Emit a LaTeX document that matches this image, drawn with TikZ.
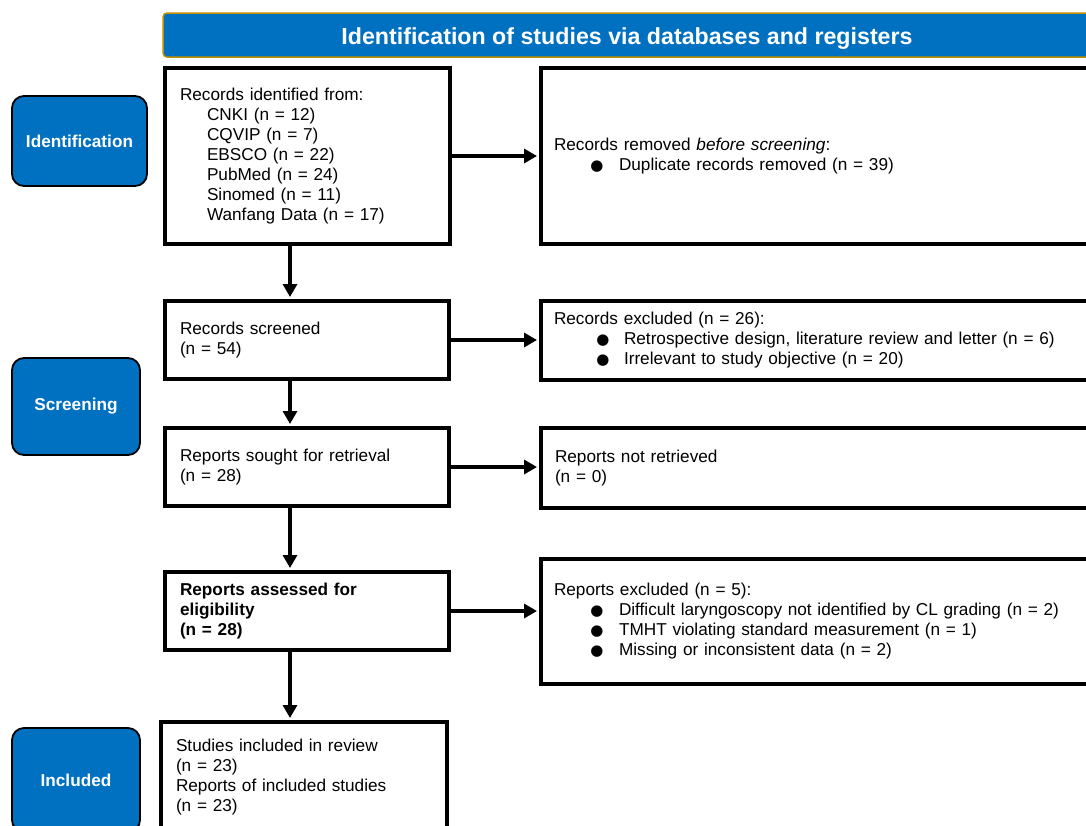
\documentclass[tikz,border=0pt]{standalone}
\usepackage{fontspec}
\setmainfont{Liberation Sans}
\newfontfamily\djv{DejaVu Sans}
\usetikzlibrary{arrows.meta}
\definecolor{pblue}{HTML}{0070C0}
\definecolor{pgold}{HTML}{C09000}
\newcommand\fs{\fontsize{17.2}{20}\selectfont}
\newcommand\bglyph{\djv\fontsize{15}{15}\selectfont ●}
\newcommand\bl{\hspace*{38pt}\makebox[10pt][c]{\bglyph}\hspace*{17pt}}
\newcommand\blw{\hspace*{44pt}\makebox[10pt][c]{\bglyph}\hspace*{16pt}}
\newcommand\ind{\hspace*{27pt}}
\begin{document}
\begin{tikzpicture}[x=1pt,y=-1pt,
  box/.style={draw, line width=4pt, fill=white, rectangle, anchor=north west,
    inner xsep=15pt, inner ysep=0pt, align=left, font=\fs},
  rbox/.style={box, inner xsep=13pt, text width=570pt},
  lbl/.style={draw=black, line width=1.8pt, fill=pblue, rounded corners=12pt,
    text=white, font=\fontsize{17.2}{20}\selectfont\bfseries, inner sep=0pt},
  hdr/.style={draw=pgold, line width=1.5pt, fill=pblue, rounded corners=4pt, inner sep=0pt},
  hdrtext/.style={text=white, font=\fontsize{23.2}{26}\selectfont\bfseries, inner sep=0pt},
  arr/.style={line width=3.5pt, -{Triangle[length=13pt,width=14pt]}, shorten >=2pt}]
\clip (0,0) rectangle (1086,825);
\fill[white] (0,0) rectangle (1086,825);
% header
\node[hdr, minimum width=928pt, minimum height=44pt] (hdr) at (627,35) {};
\node[hdrtext, anchor=base] (htxt) at (627,44)
  {Identification of studies via databases and registers};
% side labels
\node[lbl, minimum width=135pt, minimum height=90pt] (lid) at (79.5,141) {Identification};
\node[lbl, minimum width=128pt, minimum height=97pt] (lsc) at (76,406.5) {Screening};
\node[lbl, minimum width=128pt, minimum height=104pt] (lin) at (76,780) {Included};
% left column
\node[box, text width=255pt, minimum height=176pt] (b1) at (163,66)
  {Records identified from:\\
   \ind CNKI (n = 12)\\
   \ind CQVIP (n = 7)\\
   \ind EBSCO (n = 22)\\
   \ind PubMed (n = 24)\\
   \ind Sinomed (n = 11)\\
   \ind Wanfang Data (n = 17)};
\node[box, text width=254pt, minimum height=78pt] (b2) at (163,299)
  {Records screened\\(n = 54)};
\node[box, text width=254pt, minimum height=78pt] (b3) at (163,426)
  {Reports sought for retrieval\\(n = 28)};
\node[box, text width=254pt, minimum height=78pt, font=\fs\bfseries] (b4) at (163,570)
  {Reports assessed for\\eligibility\\(n = 28)};
\node[box, text width=256pt, minimum height=110pt] (b5) at (159,720)
  {Studies included in review\\(n = 23)\\Reports of included studies\\(n = 23)};
% right column
\node[rbox, minimum height=176pt] (r1) at (539,66)
  {Records removed \textit{before screening}:\\
   \bl Duplicate records removed (n = 39)};
\node[rbox, minimum height=79pt] (r2) at (539,299)
  {Records excluded (n = 26):\\
   \blw Retrospective design, literature review and letter (n = 6)\\
   \blw Irrelevant to study objective (n = 20)};
\node[rbox, minimum height=80pt, inner xsep=14pt] (r3) at (539,426)
  {Reports not retrieved\\(n = 0)};
\node[rbox, minimum height=125pt] (r4) at (539,557)
  {Reports excluded (n = 5):\\
   \bl Difficult laryngoscopy not identified by CL grading (n = 2)\\
   \bl TMHT violating standard measurement (n = 1)\\
   \bl Missing or inconsistent data (n = 2)};
% connectors
\coordinate (ax) at (290,0);
\draw[arr] (b1.south -| ax) -- (b2.north -| ax);
\draw[arr] (b2.south -| ax) -- (b3.north -| ax);
\draw[arr] (b3.south -| ax) -- (b4.north -| ax);
\draw[arr] (b4.south -| ax) -- (b5.north -| ax);
\draw[arr] (b1.east) -- (b1.east -| r1.west);
\draw[arr] (b2.east) -- (b2.east -| r2.west);
\draw[arr] (b3.east) -- (b3.east -| r3.west);
\draw[arr] (b4.east) -- (b4.east -| r4.west);
\end{tikzpicture}
\end{document}
